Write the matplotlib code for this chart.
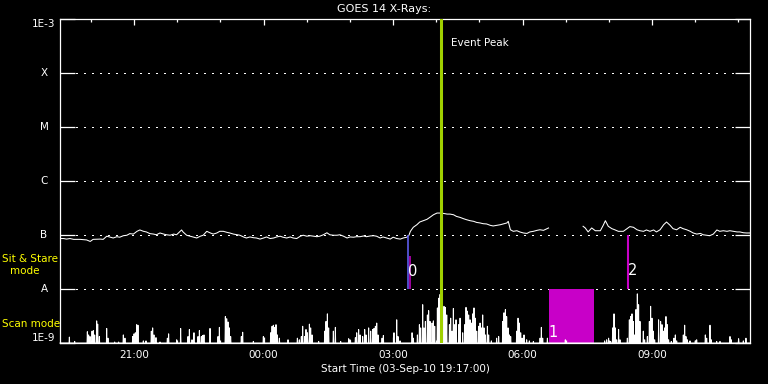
import matplotlib
matplotlib.use('Agg')
import matplotlib.pyplot as plt

TITLE = "GOES 14 X-Rays:"
XLABEL = "Start Time (03-Sep-10 19:17:00)"
X_END_MIN = 959  # minutes after 19:17 UT

xtick_min = [103, 283, 463, 643, 823]
xtick_labels = ['21:00', '00:00', '03:00', '06:00', '09:00']
xminor_min = [43, 163, 223, 343, 403, 523, 583, 703, 763, 883, 943]

ytick_vals = [1e-9, 1e-8, 1e-7, 1e-6, 1e-5, 1e-4, 1e-3]
ytick_labels = ['1E-9', 'A', 'B', 'C', 'M', 'X', '1E-3']
grid_levels = [1e-8, 1e-7, 1e-6, 1e-5, 1e-4]

# GOES long-channel flux, minutes after 19:17, in units of 1e-7 W/m^2 (None = data gap)
flux_min = [0, 5, 9, 14, 19, 28, 37, 42, 46, 56, 60, 65, 70, 74, 79, 83, 88, 93, 97, 102,
            107, 111, 116, 120, 125, 130, 134, 139, 144, 148, 153, 158, 162, 167, 169, 171,
            176, 181, 185, 190, 195, 199, 204, 209, 213, 218, 222, 227, 232, 236, 241, 246,
            250, 255, 259, 264, 269, 273, 278, 283, 287, 292, 297, 301, 306, 310, 315, 320,
            324, 329,
            334, 338, 343, 348, 352, 357, 361, 366, 371, 375, 380, 385, 389, 394, 399, 403,
            408, 412, 417, 422, 426, 431, 436, 440, 445, 449, 454, 459, 463, 468, 473, 477,
            482, 485, 487, 491, 496, 500, 505, 510, 514, 519, 524, 528, 533, 538, 542, 547,
            551, 556, 561, 565, 570, 575, 579, 584, 588, 593, 598, 602, 607, 612, 616, 621,
            623, 626, 630, 635, 639, 644, 649, 653, 658, 663, 667, 672, 677, 679,
            700,
            727, 730, 734, 739, 744, 751, 755, 758, 762, 767, 771, 776, 783, 788, 792, 797,
            802, 806, 811, 815, 820, 825, 829, 834, 839, 843, 848, 852, 857, 862, 866, 871,
            876, 880, 885, 890, 894, 899, 903, 908, 913, 917, 922, 927, 931, 936, 941, 945,
            950, 954, 959]
flux_e7 = [0.86, 0.86, 0.84, 0.86, 0.83, 0.83, 0.81, 0.76, 0.83, 0.84, 0.83, 0.95, 0.91, 0.88,
           0.93, 0.91, 0.97, 0.99, 1.06, 1.04, 1.17, 1.24, 1.17, 1.14, 1.06, 1.04, 1.01, 1.09,
           1.04, 1.01, 0.99, 1.04, 1.01, 1.17, 1.24, 1.14, 0.99, 0.95, 0.92, 0.88, 0.95, 0.99,
           1.17, 1.09, 1.04, 1.09, 1.17, 1.17, 1.12, 1.09, 1.04, 1.01, 0.99, 0.92, 0.88, 0.92,
           0.89, 0.88, 0.84, 0.88, 0.92, 0.86, 0.88, 0.92, 0.95, 0.91, 0.88, 0.92, 0.88, 0.86,
           0.95, 0.99, 0.95, 0.97, 0.95, 0.93, 0.95, 1.01, 1.10, 1.01, 0.99, 0.99, 1.01, 0.95,
           0.88, 0.92, 0.91, 0.93, 0.93, 0.96, 0.93, 0.96, 0.97, 0.95, 0.88, 0.92, 0.88, 0.84,
           0.91, 0.86, 0.84, 0.88, 0.91, 0.99, 1.17, 1.39, 1.55, 1.74, 1.84, 1.95, 2.12, 2.37,
           2.55, 2.55, 2.51, 2.44, 2.44, 2.37, 2.21, 2.12, 2.00, 1.92, 1.84, 1.79, 1.71, 1.67,
           1.62, 1.60, 1.51, 1.47, 1.51, 1.55, 1.60, 1.67, 1.79, 1.25, 1.17, 1.20, 1.14, 1.09,
           1.07, 1.14, 1.17, 1.22, 1.25, 1.22, 1.31, 1.35,
           None,
           1.45, 1.35, 1.14, 1.35, 1.20, 1.20, 1.51, 1.84, 1.45, 1.31, 1.25, 1.17, 1.17, 1.31,
           1.43, 1.39, 1.25, 1.20, 1.17, 1.24, 1.17, 1.24, 1.14, 1.25, 1.55, 1.74, 1.51, 1.31,
           1.25, 1.39, 1.31, 1.25, 1.17, 1.09, 1.04, 1.07, 1.01, 0.99, 0.97, 1.04, 1.24, 1.17,
           1.20, 1.17, 1.20, 1.17, 1.14, 1.14, 1.10, 1.09, 1.09]

# Scan-mode spikes: minutes after 19:17 and level (fraction of the lowest decade band)
scan_min = [13.0, 20.4, 38.0, 39.8, 41.7, 44.5, 46.3, 48.2, 51.0, 52.4, 54.7, 64.9, 66.7, 76.0,
            81.5, 88.0, 90.3, 101.0, 102.9, 104.7, 106.6, 108.4, 115.8, 119.5, 126.9, 128.8,
            130.6, 133.4, 139.0, 149.2, 151.0, 162.2, 167.7, 177.9, 179.8, 183.5, 186.2, 191.8,
            193.7, 196.4, 198.3, 200.1, 208.5, 219.6, 221.5, 229.8, 231.7, 233.5, 235.4, 237.2,
            252.0, 253.9, 268.7, 282.6, 292.8, 294.7, 296.5, 298.4, 300.2, 302.1, 304.9, 316.9,
            329.9, 332.6,
            335.4, 337.3, 340.1, 341.9, 343.8, 346.6, 348.4, 350.3, 359.5, 367.9, 369.7, 371.6,
            373.4, 379.9, 382.7, 390.1, 401.2, 403.0, 410.5, 412.4, 415.1, 417.0, 420.7, 423.5,
            425.3, 429.0, 431.8, 434.6, 436.4, 438.3, 440.2, 442.0, 447.6, 449.4, 464.2, 468.0,
            469.8, 472.6, 489.3, 491.1, 496.7, 499.5, 501.3, 504.1, 505.9, 507.8, 510.6, 512.4,
            514.3, 517.1, 518.9, 520.8, 524.5, 526.3, 528.2, 531.0, 533.7, 535.6, 537.5, 541.2,
            543.0, 544.9, 546.7, 548.6, 550.4, 554.1, 556.0, 559.7, 562.5, 564.3, 566.2, 568.0,
            569.9, 571.7, 573.6, 575.4, 577.3, 579.2, 581.9, 583.8, 585.6, 587.5, 589.3, 591.2,
            594.0, 595.8, 599.5, 606.9, 609.7, 615.3, 617.1, 619.0, 620.8, 622.7, 624.5, 626.4,
            634.7, 636.6, 638.4, 640.3, 642.2, 644.9, 648.6, 652.3, 657.9, 667.2, 669.0, 670.9,
            677.4,
            702.3, 757.0, 759.8, 762.5, 765.3, 768.1, 770.0, 771.8, 773.7, 776.4, 778.3, 788.5,
            791.3, 793.1, 795.0, 796.8, 798.7, 800.5, 802.4, 804.2, 806.1, 810.7, 812.6, 816.3,
            819.1, 820.9, 822.8, 824.6, 826.5, 832.0, 834.8, 836.7, 838.5, 840.4, 842.2, 844.1,
            845.9, 849.6, 853.3, 855.2, 857.1, 866.3, 868.2, 870.0, 871.9, 875.6, 883.0, 884.9,
            896.9, 898.8, 903.4, 905.2, 912.7, 917.3, 931.2, 933.0, 943.2, 949.7, 953.4]
scan_level = [.11, .03, .21, .15, .12, .22, .23, .15, .41, .35, .12, .27, .09, .02,
              .02, .15, .09, .12, .17, .19, .34, .33, .04, .04, .22, .28,
              .15, .10, .02, .09, .17, .06, .27, .12, .25, .06, .19, .12,
              .23, .12, .14, .15, .27, .12, .29, .49, .45, .39, .28, .12,
              .12, .20, .03, .12, .19, .31, .33, .29, .34, .15, .09, .06,
              .09, .06,
              .12, .31, .12, .25, .19, .35, .28, .15, .03, .22, .40, .54,
              .28, .22, .29, .03, .08, .06, .10, .19, .25, .15, .12, .25,
              .15, .28, .22, .25, .27, .31, .37, .15, .09, .14, .19, .43,
              .12, .04, .19, .09, .15, .34, .28, .71, .28, .40, .52, .60,
              .40, .37, .41, .31, .65, .83, .90, .46, .68, .66, .52, .34,
              .46, .22, .64, .34, .43, .34, .46, .19, .34, .66, .59, .52,
              .43, .37, .54, .65, .46, .22, .31, .37, .28, .52, .28, .15,
              .31, .15, .04, .09, .12, .40, .56, .62, .49, .28, .15, .12,
              .22, .46, .37, .19, .09, .15, .06, .04, .03, .09, .29, .09,
              .09,
              .06, .04, .06, .09, .03, .28, .54, .28, .06, .25, .06, .09,
              .43, .49, .54, .40, .15, .62, .91, .71, .40, .22, .06, .12,
              .40, .68, .46, .22, .06, .43, .40, .34, .22, .28, .49, .34,
              .06, .03, .09, .15, .04, .15, .33, .12, .06, .04, .04, .06,
              .15, .09, .33, .06, .03, .03, .12, .06, .08, .04, .09]

# Event markers (minutes after 19:17)
peak_min = 529.5
event0_blue_min = 484.0
event0_mag_min = 486.0
event0_mag_top = 4.1e-8
event1_start_min = 679.6
event1_end_min = 742.2
event2_min = 790.1

WHITE = 'white'
YELLOW = '#ffff00'
GREEN = '#a0d000'
MAGENTA = '#c800c8'
BLUE = '#6464ff'

fig = plt.figure(figsize=(7.68, 3.84), dpi=100, facecolor='black')
ax = fig.add_axes([60 / 768, 41 / 384, 690 / 768, 324 / 384])
ax.set_facecolor('black')
ax.set_yscale('log')
ax.set_xlim(0, X_END_MIN)
ax.set_ylim(1e-9, 1e-3)

for s in ax.spines.values():
    s.set_color(WHITE)
    s.set_linewidth(0.9)

# y ticks (inward both sides), labels drawn as annotations
ax.set_yticks(ytick_vals)
ax.yaxis.set_minor_locator(matplotlib.ticker.NullLocator())
ax.tick_params(axis='y', which='major', direction='in', length=10.8, width=0.9,
               color=WHITE, left=True, right=True, labelleft=False, labelright=False)
for v, lab in zip(ytick_vals, ytick_labels):
    va = 'center'
    if v == ytick_vals[0]:
        va = 'bottom'
    elif v == ytick_vals[-1]:
        va = 'top'
    ax.annotate(lab, xy=(0, v), xycoords=('axes fraction', 'data'), xytext=(-11.5, 0),
                textcoords='offset points', ha='center', va=va, color=WHITE, fontsize=7.5,
                annotation_clip=False)

# x ticks
ax.set_xticks(xtick_min)
ax.set_xticklabels(xtick_labels)
ax.set_xticks(xminor_min, minor=True)
ax.tick_params(axis='x', which='major', direction='in', length=4.5, width=0.9, color=WHITE,
               top=True, bottom=True, labelcolor=WHITE, labelsize=7.5, pad=5)
ax.tick_params(axis='x', which='minor', direction='in', length=2.5, width=0.9, color=WHITE,
               top=True, bottom=True)

# dotted class levels
for lev in grid_levels:
    ax.axhline(lev, color=WHITE, lw=0.8, linestyle=(0, (1, 5.5)), zorder=1,
               antialiased=False)

# flux curve
fx = [t for t in flux_min]
fy = [float('nan') if v is None else v * 1e-7 for v in flux_e7]
ax.plot(fx, fy, color=WHITE, lw=0.75, zorder=3)

# event 1 (magenta block)
ax.fill_betweenx([1e-9, 1e-8], event1_start_min, event1_end_min, color=MAGENTA, lw=0, zorder=1.5)
ax.text(event1_start_min + 5.6, 1.56e-9, '1', color=WHITE, fontsize=10.5, ha='center',
        va='center', zorder=7)

# event 0 & 2 lines
ax.vlines(event0_blue_min, 1e-8, 1e-7, color=BLUE, lw=1.1, zorder=4)
ax.vlines(event0_mag_min, 1e-8, event0_mag_top, color=MAGENTA, lw=1.1, zorder=4)
ax.text(event0_mag_min + 4.6, 2.08e-8, '0', color=WHITE, fontsize=10.5, ha='center',
        va='center', zorder=7)
ax.vlines(event2_min, 1e-8, 1e-7, color=MAGENTA, lw=1.5, zorder=4)
ax.text(event2_min + 6.3, 2.2e-8, '2', color=WHITE, fontsize=10.5, ha='center',
        va='center', zorder=7)

# scan-mode spikes in the lowest band
sax = ax.inset_axes([0, 0, 1, 1 / 6])
sax.set_xlim(0, X_END_MIN)
sax.set_ylim(0, 1)
sax.axis('off')
sax.patch.set_alpha(0)
sax.set_zorder(5)
w = 0.45
sx = [0]
sy = [0]
for t, h in zip(scan_min, scan_level):
    sx += [t - w, t, t + w]
    sy += [0, h, 0]
sx.append(X_END_MIN)
sy.append(0)
sax.plot(sx, sy, color=WHITE, lw=0.7, clip_on=False)

# event peak
ax.axvline(peak_min, color=GREEN, lw=2.2, zorder=6)
ax.text(peak_min + 14, 3.6e-4, 'Event Peak', color=WHITE, fontsize=7.5, ha='left', va='center')

# texts
fig.text(0.5, 1 - 9 / 384, TITLE, color=WHITE, fontsize=8, ha='center', va='center')
fig.text(405 / 768, 1 - 369 / 384, XLABEL, color=WHITE, fontsize=7.5, ha='center', va='center')
fig.text(2 / 768, 1 - 258.7 / 384, 'Sit & Stare', color=YELLOW, fontsize=7.5, ha='left', va='center')
fig.text(24.3 / 768, 1 - 271 / 384, 'mode', color=YELLOW, fontsize=7.5, ha='center', va='center')
fig.text(2 / 768, 1 - 324 / 384, 'Scan mode', color=YELLOW, fontsize=7.5, ha='left', va='center')

fig.savefig('out.png', dpi=100, facecolor='black')
